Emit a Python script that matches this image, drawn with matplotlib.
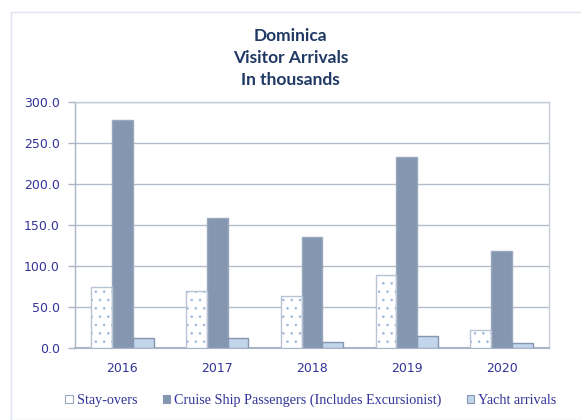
import matplotlib
matplotlib.use("Agg")
import matplotlib.pyplot as plt
import numpy as np
from matplotlib.patches import Rectangle, Patch

years = ["2016", "2017", "2018", "2019", "2020"]
stay_overs = [74.0, 69.0, 63.0, 89.5, 22.5]
cruise = [278.0, 158.5, 135.0, 232.5, 118.0]
yacht = [12.6, 12.6, 7.7, 14.2, 6.5]

TXT = "#333399"
NAVY = "#1F3864"
AXC = "#A9B4C6"

plt.rcParams["hatch.linewidth"] = 0.6

fig = plt.figure(figsize=(5.81, 4.20), dpi=100)
fig.patches.append(Rectangle((11 / 581, 0), 1.0, 1 - 12 / 420, transform=fig.transFigure,
                             fill=False, edgecolor="#DDE4EF", linewidth=1.0))

ax = fig.add_axes([75 / 581, 72 / 420, 474 / 581, 246 / 420])
x = np.arange(len(years))
w = 0.22

# stay-overs: dotted white bars
ax.bar(x - w, stay_overs, w, color="white", edgecolor="#9DB8DE", hatch="..",
       linewidth=0, zorder=3)
ax.bar(x - w, stay_overs, w, color="none", edgecolor="#B8C3D5", linewidth=1.0, zorder=4)
ax.bar(x, cruise, w, color="#8496B0", edgecolor="#9AA8BE", linewidth=1.0, zorder=3)
ax.bar(x + w, yacht, w, color="#C3D5EB", edgecolor="#8496B0", linewidth=1.0, zorder=3)

ax.set_xlim(-0.5, len(years) - 0.5)
ax.set_ylim(0, 300)
ax.set_yticks(np.arange(0, 301, 50))
ax.set_yticklabels([f"{v:.1f}" for v in np.arange(0, 301, 50)])
ax.set_xticks(x)
ax.set_xticklabels(years)
ax.tick_params(axis="y", colors=AXC, labelcolor=TXT, labelsize=9, length=5, width=1, pad=6)
ax.tick_params(axis="x", length=0, labelcolor=TXT, labelsize=9, pad=10)
ax.grid(axis="y", color="#B4BDCC", linewidth=1.0, zorder=0)
for s in ax.spines.values():
    s.set_color("#C5CCD8")
    s.set_linewidth(1.0)
ax.spines["left"].set_color(AXC)
ax.spines["bottom"].set_color(AXC)
ax.spines["bottom"].set_linewidth(1.5)

fig.text(0.5, 1 - 58 / 420, "Dominica\nVisitor Arrivals\nIn thousands", ha="center", va="center",
         fontsize=12.5, fontweight="bold", color=NAVY, family="Lato", linespacing=1.45)

handles = [
    Patch(facecolor="white", edgecolor="#9AA8BE", linewidth=0.8),
    Patch(facecolor="#8496B0", edgecolor="#8496B0", linewidth=0.8),
    Patch(facecolor="#C3D5EB", edgecolor="#8496B0", linewidth=0.8),
]
labels = ["Stay-overs", "Cruise Ship Passengers (Includes Excursionist)", "Yacht arrivals"]
leg = fig.legend(handles, labels, loc="center", bbox_to_anchor=(311 / 581, 1 - 400 / 420), ncol=3,
                 frameon=False, handlelength=0.5, handleheight=0.5, handletextpad=0.3,
                 columnspacing=1.8, prop={"family": "Liberation Serif", "size": 10.2})
for t in leg.get_texts():
    t.set_color(TXT)

fig.savefig("out.png", dpi=100)
